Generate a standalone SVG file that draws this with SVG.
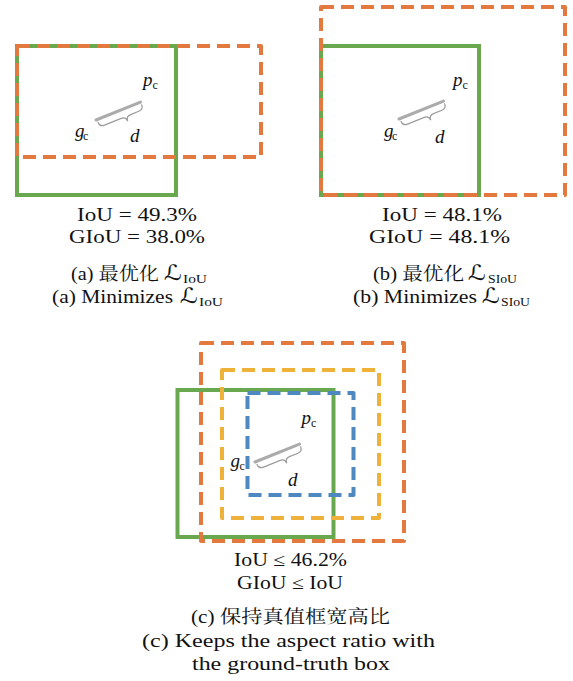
<svg xmlns="http://www.w3.org/2000/svg" width="573" height="681" viewBox="0 0 573 681">
  <style>
    .bg { fill: #ffffff; }
    .gt { fill: none; stroke: #6aa84f; stroke-width: 4; }
    .dash { fill: none; stroke-width: 4; stroke-dasharray: 13 7; stroke-linejoin: round; }
    .orange { stroke: #e4793f; }
    .yellow { stroke: #eeb23a; }
    .blue { stroke: #4d88c0; }
    .dist { stroke: #ababab; stroke-width: 3; stroke-linecap: round; }
    .brace { fill: none; stroke: #9c9c9c; stroke-width: 1.2; stroke-linecap: round; }
    .t { font-family: "Liberation Serif", "DejaVu Serif", serif; font-size: 18px; fill: #111; }
    .cjk { font-family: "Liberation Serif", "Noto Serif CJK SC", "Noto Sans CJK SC", serif; font-size: 18px; fill: #111; }
    .cal { font-family: "DejaVu Sans", "DejaVu Serif", sans-serif; font-size: 21px; fill: #111; }
    .sub { font-family: "Liberation Serif", "DejaVu Serif", serif; font-size: 12px; fill: #111; }
    .var { font-family: "Liberation Serif", "DejaVu Serif", serif; font-size: 19px; font-style: italic; fill: #111; }
    .vs { font-family: "Liberation Serif", "DejaVu Serif", serif; font-size: 12px; fill: #111; }
  </style>
  <defs>
    <!-- centre-distance segment with its brace, drawn along +x -->
    <g id="distance">
      <line class="dist" x1="0" y1="0" x2="48" y2="0"/>
      <path class="brace" d="M1,3 C1,7 3,8 6,8 L24,8 C27,8 29,9 29,13 C29,9 31,8 34,8 L43,8 C46,8 48,7 48,3"/>
    </g>
  </defs>
  <rect class="bg" x="0" y="0" width="573" height="681"/>

  <!-- (a) -->
  <g id="panel-a">
    <rect class="gt" x="17" y="46" width="159" height="149"/>
    <rect class="dash orange" x="17" y="46" width="244" height="111"/>
    <use href="#distance" transform="translate(96,120) rotate(-22)"/>
    <text class="var" x="143" y="86">p</text><text class="vs" x="152.5" y="89">c</text>
    <text class="var" x="75" y="137">g</text><text class="vs" x="83" y="140">c</text>
    <text class="var" x="130" y="142">d</text>
    <text class="t" x="77" y="221" textLength="120" lengthAdjust="spacingAndGlyphs">IoU = 49.3%</text>
    <text class="t" x="69" y="243" textLength="136" lengthAdjust="spacingAndGlyphs">GIoU = 38.0%</text>
    <text class="cjk" x="71" y="280" textLength="88" lengthAdjust="spacingAndGlyphs">(a) 最优化</text>
    <text class="cal" x="164" y="280" textLength="18" lengthAdjust="spacingAndGlyphs">ℒ</text>
    <text class="sub" x="183" y="283" textLength="24" lengthAdjust="spacingAndGlyphs">IoU</text>
    <text class="t" x="52" y="303" textLength="121" lengthAdjust="spacingAndGlyphs">(a) Minimizes</text>
    <text class="cal" x="180" y="303" textLength="18" lengthAdjust="spacingAndGlyphs">ℒ</text>
    <text class="sub" x="199" y="306" textLength="24" lengthAdjust="spacingAndGlyphs">IoU</text>
  </g>

  <!-- (b) -->
  <g id="panel-b">
    <rect class="gt" x="321" y="46" width="158" height="149"/>
    <rect class="dash orange" x="321" y="7" width="244" height="188"/>
    <use href="#distance" transform="translate(399,119) rotate(-22)"/>
    <text class="var" x="453" y="86">p</text><text class="vs" x="462.5" y="89">c</text>
    <text class="var" x="384" y="137">g</text><text class="vs" x="392" y="140">c</text>
    <text class="var" x="435" y="143">d</text>
    <text class="t" x="382" y="221" textLength="120" lengthAdjust="spacingAndGlyphs">IoU = 48.1%</text>
    <text class="t" x="369" y="243" textLength="141" lengthAdjust="spacingAndGlyphs">GIoU = 48.1%</text>
    <text class="cjk" x="373" y="280" textLength="91" lengthAdjust="spacingAndGlyphs">(b) 最优化</text>
    <text class="cal" x="468" y="280" textLength="18" lengthAdjust="spacingAndGlyphs">ℒ</text>
    <text class="sub" x="488" y="283" textLength="29" lengthAdjust="spacingAndGlyphs">SIoU</text>
    <text class="t" x="353" y="303" textLength="124" lengthAdjust="spacingAndGlyphs">(b) Minimizes</text>
    <text class="cal" x="482" y="303" textLength="18" lengthAdjust="spacingAndGlyphs">ℒ</text>
    <text class="sub" x="501" y="306" textLength="29" lengthAdjust="spacingAndGlyphs">SIoU</text>
  </g>

  <!-- (c) -->
  <g id="panel-c">
    <rect class="gt" x="177.5" y="390" width="156" height="147"/>
    <rect class="dash orange" x="201" y="343" width="203" height="198"/>
    <rect class="dash yellow" x="222" y="370" width="157" height="148"/>
    <rect class="dash blue" x="247.5" y="393" width="106" height="102"/>
    <use href="#distance" transform="translate(255,462) rotate(-22)"/>
    <text class="var" x="301.5" y="424">p</text><text class="vs" x="311" y="427">c</text>
    <text class="var" x="230.5" y="467">g</text><text class="vs" x="239.5" y="470">c</text>
    <text class="var" x="288" y="486">d</text>
    <text class="t" x="234" y="566" textLength="113" lengthAdjust="spacingAndGlyphs">IoU ≤ 46.2%</text>
    <text class="t" x="237" y="589" textLength="106" lengthAdjust="spacingAndGlyphs">GIoU ≤ IoU</text>
    <text class="cjk" x="191" y="623" textLength="199" lengthAdjust="spacingAndGlyphs">(c) 保持真值框宽高比</text>
    <text class="t" x="142" y="647" textLength="293" lengthAdjust="spacingAndGlyphs">(c) Keeps the aspect ratio with</text>
    <text class="t" x="192" y="670" textLength="198" lengthAdjust="spacingAndGlyphs">the ground-truth box</text>
  </g>
</svg>
